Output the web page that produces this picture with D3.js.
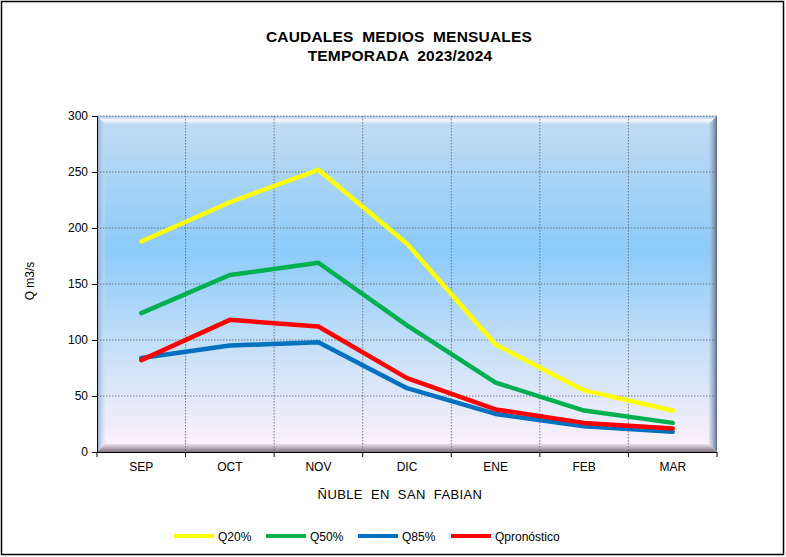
<!DOCTYPE html>
<html><head><meta charset="utf-8">
<script src="https://cdn.jsdelivr.net/npm/d3@7"></script>
<style>body{margin:0;background:#fff}svg{display:block;font-family:"Liberation Sans",Arial,sans-serif}</style>
</head><body><svg id="c" width="786" height="557"></svg>
<script>
const months = ["SEP","OCT","NOV","DIC","ENE","FEB","MAR"];
const q20 = [188, 223, 252, 186, 96, 55, 37];
const q50 = [124, 158, 169, 113, 62, 37, 26];
const q85 = [84, 95, 98, 57, 34, 23, 18];
const qpron = [82, 118, 112, 66, 38, 26, 21];
const yTicks = [0, 50, 100, 150, 200, 250, 300];
const seriesNames = ["Q20%", "Q50%", "Q85%", "Qpronóstico"];
const seriesColors = ["#ffff00", "#00b050", "#0070c0", "#ff0000"];
const series = [q20, q50, q85, qpron];

const svg = d3.select("#c");
svg.append("rect").attr("x",1.5).attr("y",1.5).attr("width",782).attr("height",553).attr("fill","#fff").attr("stroke","#000").attr("stroke-width",1.5);

const L=97, R=717, T=116, B=452;
const x = d3.scaleBand().domain(months).range([L,R]);
const y = d3.scaleLinear().domain([0,300]).range([B,T]);

const defs = svg.append("defs");
const g1 = defs.append("linearGradient").attr("id","bg").attr("x1",0).attr("y1",0).attr("x2",0).attr("y2",1);
[[0,"#c3dcf3"],[0.4,"#8ccbfa"],[0.7,"#c7e0f8"],[1,"#fff2fb"]].forEach(s=>g1.append("stop").attr("offset",s[0]).attr("stop-color",s[1]));
svg.append("rect").attr("x",L).attr("y",T).attr("width",R-L).attr("height",B-T).attr("fill","url(#bg)");

// bevels
const bw=8;
const gT=defs.append("linearGradient").attr("id","bt").attr("x1",0).attr("y1",0).attr("x2",0).attr("y2",1);
gT.append("stop").attr("offset",0).attr("stop-color","#9fc3e6");gT.append("stop").attr("offset",0.5).attr("stop-color","#f4faff");gT.append("stop").attr("offset",1).attr("stop-color","#c5def5");
const gB=defs.append("linearGradient").attr("id","bb").attr("x1",0).attr("y1",0).attr("x2",0).attr("y2",1);
gB.append("stop").attr("offset",0).attr("stop-color","#ece0ec");gB.append("stop").attr("offset",1).attr("stop-color","#7e7480");
const gL=defs.append("linearGradient").attr("id","bl").attr("x1",0).attr("y1",0).attr("x2",1).attr("y2",0);
gL.append("stop").attr("offset",0).attr("stop-color","#8fa8c8");gL.append("stop").attr("offset",1).attr("stop-color","#c8e0f8").attr("stop-opacity",0.3);
const gR=defs.append("linearGradient").attr("id","br").attr("x1",0).attr("y1",0).attr("x2",1).attr("y2",0);
gR.append("stop").attr("offset",0).attr("stop-color","#b8c8e0").attr("stop-opacity",0.4);gR.append("stop").attr("offset",1).attr("stop-color","#5a6a88");
const P=(pts)=>pts.map(p=>p.join(",")).join(" ");
svg.append("polygon").attr("points",P([[L,T],[R,T],[R-bw,T+bw],[L+bw,T+bw]])).attr("fill","url(#bt)");
svg.append("polygon").attr("points",P([[L,T],[L+bw,T+bw],[L+bw,B-bw],[L,B]])).attr("fill","url(#bl)");
svg.append("polygon").attr("points",P([[R,T],[R,B],[R-bw,B-bw],[R-bw,T+bw]])).attr("fill","url(#br)");
svg.append("polygon").attr("points",P([[L,B],[R,B],[R-bw,B-bw],[L+bw,B-bw]])).attr("fill","url(#bb)");

// gridlines
const grid = svg.append("g").attr("stroke","#5a5e66").attr("stroke-width",0.8).attr("stroke-dasharray","1.5,1.5").attr("fill","none");
yTicks.filter(t=>t>0).forEach(t=>grid.append("line").attr("x1",L).attr("x2",R).attr("y1",y(t)).attr("y2",y(t)));
months.slice(1).forEach(m=>grid.append("line").attr("x1",x(m)).attr("x2",x(m)).attr("y1",T).attr("y2",B));

// axes
const ya = svg.append("g").attr("transform",`translate(${L},0)`).call(d3.axisLeft(y).tickValues(yTicks).tickSize(5).tickPadding(4));
ya.select(".domain").attr("stroke","#000");
ya.selectAll("text").attr("font-size",12).attr("fill","#000").attr("font-family","Liberation Sans, Arial, sans-serif");
const xa = svg.append("g").attr("transform",`translate(0,${B})`).call(d3.axisBottom(x).tickSize(0).tickPadding(10));
xa.select(".domain").attr("stroke","#000");
xa.selectAll("text").attr("font-size",12).attr("fill","#000").attr("font-family","Liberation Sans, Arial, sans-serif");
const edges = months.map(m=>x(m)).concat([R]);
xa.selectAll(".edge").data(edges).enter().append("line").attr("x1",d=>d).attr("x2",d=>d).attr("y1",0).attr("y2",5).attr("stroke","#000");

// lines
const line = d3.line().x((d,i)=>x(months[i])+x.bandwidth()/2).y(d=>y(d));
series.forEach((s,i)=>{
  svg.append("path").attr("d",line(s)).attr("fill","none").attr("stroke",seriesColors[i]).attr("stroke-width",4.5).attr("stroke-linejoin","round").attr("stroke-linecap","round");
});

// titles
svg.append("text").attr("x",399).attr("y",42).attr("text-anchor","middle").attr("font-weight","bold").attr("font-size",15.5).attr("letter-spacing",0.2).attr("word-spacing",4).text("CAUDALES MEDIOS MENSUALES");
svg.append("text").attr("x",400).attr("y",60.5).attr("text-anchor","middle").attr("font-weight","bold").attr("font-size",15.5).attr("letter-spacing",0.2).attr("word-spacing",4).text("TEMPORADA 2023/2024");
svg.append("text").attr("transform","translate(34,281) rotate(-90)").attr("text-anchor","middle").attr("font-size",12).text("Q m3/s");
svg.append("text").attr("x",400).attr("y",499).attr("text-anchor","middle").attr("font-size",13).attr("letter-spacing",0.4).attr("word-spacing",4).text("ÑUBLE EN SAN FABIAN");

// legend
const lx = [174, 266, 358, 451];
seriesNames.forEach((n,i)=>{
  svg.append("line").attr("x1",lx[i]).attr("x2",lx[i]+40).attr("y1",536).attr("y2",536).attr("stroke",seriesColors[i]).attr("stroke-width",4);
  svg.append("text").attr("x",lx[i]+44).attr("y",540.5).attr("font-size",12).text(n);
});
</script></body></html>
